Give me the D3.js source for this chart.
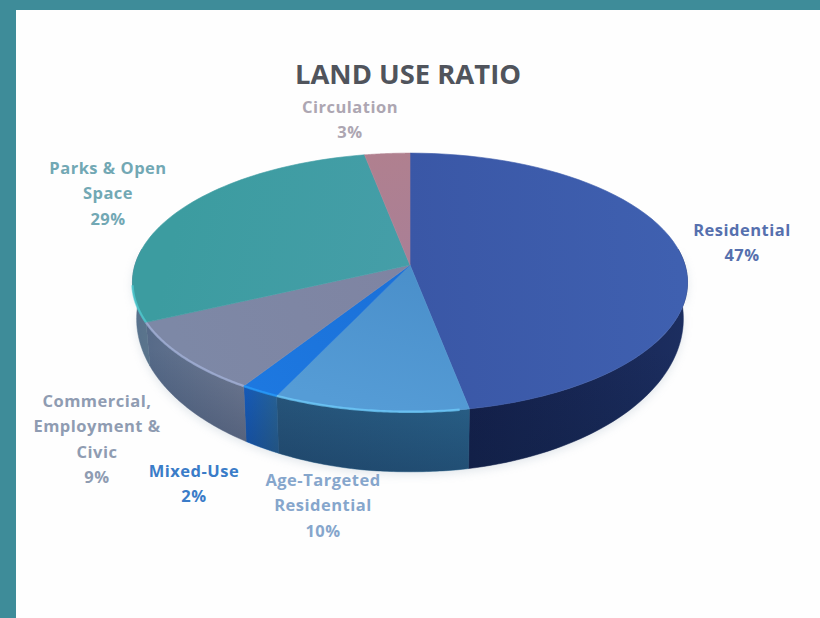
<!DOCTYPE html>
<html>
<head>
<meta charset="utf-8">
<script src="https://cdn.jsdelivr.net/npm/d3@7/dist/d3.min.js"></script>
<style>
html,body{margin:0;padding:0;background:#fff}
svg{display:block}
text{font-family:"Open Sans","Noto Sans",sans-serif;text-anchor:middle}
</style>
</head>
<body>
<svg id="chart" width="820" height="618"></svg>
<script>
// Land use shares, clockwise from twelve o'clock
const categories = ["Residential","Age-Targeted Residential","Mixed-Use","Commercial, Employment & Civic","Parks & Open Space","Circulation"];
const shares = [47,10,2,9,29,3];
const labelLines = [["Residential","47%"],["Age-Targeted","Residential","10%"],["Mixed-Use","2%"],["Commercial,","Employment &","Civic","9%"],["Parks & Open","Space","29%"],["Circulation","3%"]];
const labelAnchors = [[742,230],[323,480],[194,471],[97,401],[108,168],[350,107]];
const topColors = [["#3a57a6","#3f60b0"],["#4a8fca","#559cd6"],["#1a70d8","#1d78e0"],["#7f84a2","#7d88a6"],["#459ea8","#3c9ca0"],["#a97f96","#b0808f"]];
const sideColors = [["#141f4a","#1c2e60"],["#2a5c82","#2d6a92"],["#1560c8","#2a6aa0"],["#566a88","#727c94"],["#56708c","#5a748c"],["#6f5f78","#6f5f78"]];
const labelColors = ["#5670ae","#86a6cc","#3a7cc8","#8f9cb2","#72a8b4","#ada6b2"];

const svg = d3.select("#chart");
const width = 820, height = 618;

// Perspective view of the disc: apex, half-width, half-depth, foreshortening, wall height
const apex = {x:410, y:265}, spanX = 275, spanY = 127, tilt = 0.135, wall = 60, baseInset = 0.985;
const project = (a, r = 1) => {
  const u = Math.sin(a) * r, v = -Math.cos(a) * r, w = 1 - tilt * v;
  return [apex.x + spanX * u / w, apex.y + spanY * v / w];
};
const arcPoints = (a0, a1, r = 1) =>
  d3.range(0, 61).map(i => project(a0 + (a1 - a0) * i / 60, r));
// Lower wall edge below a rim point: shallower towards the sides of the disc
const baseOf = p => {
  const t = Math.min(1, Math.max(0, (p[1] - 265) / 145));
  return [apex.x + (p[0] - apex.x) * baseInset, p[1] + wall * (0.55 + 0.45 * t)];
};

const defs = svg.append("defs");
const pie = d3.pie().value(d => d).sort(null);
const arcs = pie(shares);

// Frame and white panel
svg.append("rect").attr("width", width).attr("height", height).attr("fill", "#3e8c99");
svg.append("rect").attr("x", 16).attr("y", 10).attr("width", width - 16).attr("height", height - 10).attr("fill", "#fefefe");

const line = d3.line();

// Soft shadow under the wall
defs.append("filter").attr("id", "soft").attr("x", "-10%").attr("y", "-10%").attr("width", "120%").attr("height", "120%")
  .append("feGaussianBlur").attr("stdDeviation", 5);

const frontA = Math.PI * 0.46, backA = Math.PI * 1.54;
const rimFront = arcPoints(frontA, backA);
svg.append("path").attr("d", line(rimFront.map(baseOf).concat(rimFront.slice().reverse())) + "Z")
  .attr("fill", "#9fb0c0").attr("opacity", 0.3).attr("filter", "url(#soft)").attr("transform", "translate(0,3)");

// Wall: only the front half of the rim shows
arcs.forEach((d, i) => {
  const a0 = Math.max(d.startAngle, frontA), a1 = Math.min(d.endAngle, backA);
  if (a1 <= a0) return;
  const top = arcPoints(a0, a1);
  const pts = top.concat(top.slice().reverse().map(baseOf));
  const xs = top.map(p => p[0]);
  const g = defs.append("linearGradient").attr("id", "side" + i).attr("gradientUnits", "userSpaceOnUse")
    .attr("x1", d3.min(xs)).attr("x2", d3.max(xs)).attr("y1", 0).attr("y2", 0);
  g.append("stop").attr("offset", 0).attr("stop-color", sideColors[i][0]);
  g.append("stop").attr("offset", 1).attr("stop-color", sideColors[i][1]);
  svg.append("path").attr("d", line(pts) + "Z").attr("fill", "url(#side" + i + ")")
    .attr("stroke", "url(#side" + i + ")").attr("stroke-width", 0.5);
});

// Shading that deepens towards the foot of the wall
const footShade = defs.append("linearGradient").attr("id", "foot").attr("x1", 0).attr("x2", 0).attr("y1", 0).attr("y2", 1);
footShade.append("stop").attr("offset", 0.45).attr("stop-color", "#0e2244").attr("stop-opacity", 0);
footShade.append("stop").attr("offset", 1).attr("stop-color", "#0e2244").attr("stop-opacity", 0.38);
svg.append("path").attr("d", line(rimFront.map(baseOf).concat(rimFront.slice().reverse())) + "Z").attr("fill", "url(#foot)");

// Top face wedges
arcs.forEach((d, i) => {
  const pts = [[apex.x, apex.y]].concat(arcPoints(d.startAngle, d.endAngle));
  const mid = project((d.startAngle + d.endAngle) / 2);
  const g = defs.append("linearGradient").attr("id", "top" + i).attr("gradientUnits", "userSpaceOnUse")
    .attr("x1", apex.x).attr("y1", apex.y).attr("x2", mid[0]).attr("y2", mid[1]);
  g.append("stop").attr("offset", 0).attr("stop-color", topColors[i][0]);
  g.append("stop").attr("offset", 1).attr("stop-color", topColors[i][1]);
  svg.append("path").attr("d", line(pts) + "Z").attr("fill", "url(#top" + i + ")")
    .attr("stroke", "url(#top" + i + ")").attr("stroke-width", 0.6);
});

// Light bevel along the front rim
arcs.forEach((d, i) => {
  if (i === 0) return;
  const a0 = Math.max(d.startAngle, Math.PI * 0.95), a1 = Math.min(d.endAngle, Math.PI * 1.45);
  if (a1 <= a0) return;
  svg.append("path").attr("d", line(arcPoints(a0, a1))).attr("fill", "none")
    .attr("stroke", d3.color(topColors[i][1]).brighter(0.8)).attr("stroke-width", 2.4).attr("opacity", 0.7);
});

// Title and data labels
svg.append("text").attr("x", 408).attr("y", 84).attr("font-size", 27).attr("font-weight", 700)
  .attr("fill", "#50545c").attr("textLength", 226).attr("lengthAdjust", "spacingAndGlyphs").text("LAND USE RATIO");

labelLines.forEach((lines, i) => {
  const t = svg.append("text").attr("aria-label", categories[i])
    .attr("font-size", 16.5).attr("font-weight", 700).attr("letter-spacing", 0.5).attr("fill", labelColors[i]);
  lines.forEach((s, j) => t.append("tspan").attr("x", labelAnchors[i][0]).attr("y", labelAnchors[i][1] + 6 + j * 25.4).text(s));
});
</script>
</body>
</html>
